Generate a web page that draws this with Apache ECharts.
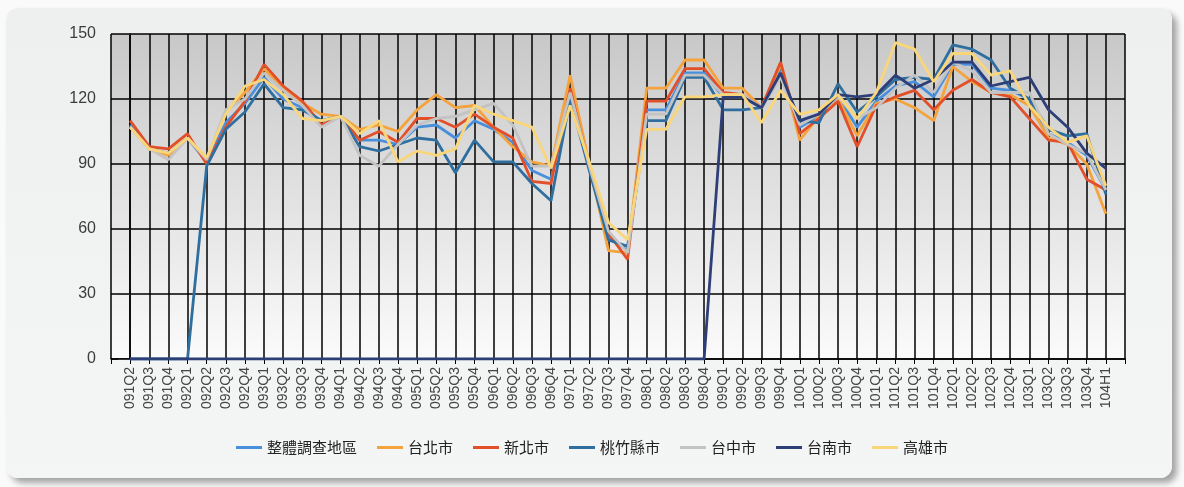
<!DOCTYPE html>
<html>
<head>
<meta charset="utf-8">
<script src="https://cdn.jsdelivr.net/npm/echarts@6/dist/echarts.min.js"></script>
<style>
html, body { margin: 0; padding: 0; background: #fafafa; }
#panel {
	position: absolute; left: 6px; top: 8px; width: 1166px; height: 470px;
	border-radius: 12px; background: linear-gradient(#eef0f0, #f4f5f5);
	box-shadow: 5px 5px 6px rgba(0,0,0,0.35);
}
#main { position: absolute; left: 0; top: 0; width: 1184px; height: 487px; }
</style>
</head>
<body>
<div id="panel"></div>
<div id="main"></div>
<script>
// 季別
var quarters = ['091Q2','091Q3','091Q4','092Q1','092Q2','092Q3','092Q4','093Q1','093Q2','093Q3','093Q4',
	'094Q1','094Q2','094Q3','094Q4','095Q1','095Q2','095Q3','095Q4','096Q1','096Q2','096Q3','096Q4',
	'097Q1','097Q2','097Q3','097Q4','098Q1','098Q2','098Q3','098Q4','099Q1','099Q2','099Q3','099Q4',
	'100Q1','100Q2','100Q3','100Q4','101Q1','101Q2','101Q3','101Q4','102Q1','102Q2','102Q3','102Q4',
	'103Q1','103Q2','103Q3','103Q4','104H1'];

var yTicks = [0, 30, 60, 90, 120, 150];

var allArea = [108,97,95,102,91,109,118,130,120,116,110,112,101,101,99,107,108,102,110,106,100,87,83,
	122,89,56,50,115,115,132,132,121,121,116,133,107,112,121,107,119,126,128,121,136,136,125,124,120,104,100,94,78];
var taipei = [107,97,94,102,92,114,123,134,125,118,113,112,106,108,105,115,122,116,117,107,98,91,89,
	131,90,50,49,125,125,138,138,125,125,116,136,101,112,120,103,118,120,116,110,135,128,123,122,117,102,99,90,67];
var newTaipei = [110,98,97,104,90,107,119,136,126,119,108,112,101,105,100,111,111,107,113,107,102,82,81,
	125,88,58,46,119,119,134,134,123,122,116,137,104,111,119,98,117,121,124,115,124,129,123,121,111,101,100,83,78];
var taoZhu = [0,0,0,0,89,106,114,127,116,115,110,112,98,96,99,102,101,86,101,91,91,81,73,
	120,87,55,52,110,110,130,130,115,115,116,131,110,109,127,114,121,129,130,129,145,143,138,125,120,106,103,104,76];
var taichung = [107,97,92,102,92,115,120,132,124,117,107,112,94,89,99,108,111,112,115,118,108,89,89,
	123,89,59,49,113,113,131,131,122,122,116,130,108,113,121,111,116,125,131,123,137,133,123,123,123,104,99,95,78];
var tainan = [0,0,0,0,0,0,0,0,0,0,0,0,0,0,0,0,0,0,0,0,0,0,0,
	0,0,0,0,0,0,0,0,121,121,116,132,110,113,122,121,122,131,125,129,137,137,126,128,130,115,107,95,88];
var kaohsiung = [107,97,95,102,93,113,126,129,122,111,110,112,104,110,91,96,94,97,117,113,110,107,88,
	117,91,63,55,106,106,121,121,122,122,109,124,113,115,122,111,123,146,143,128,141,141,131,133,117,107,100,103,80];

var seriesNames = ['整體調查地區','台北市','新北市','桃竹縣市','台中市','台南市','高雄市'];
var seriesData = [allArea, taipei, newTaipei, taoZhu, taichung, tainan, kaohsiung];
var seriesColors = ['#4a8fdc','#f5a33c','#e2502b','#2f6f9f','#c3c3c3','#2e3f77','#fad67a'];

var myChart = echarts.init(document.getElementById('main'));

var series = [];
for (var s = 0; s < seriesNames.length; s++) {
	series.push({
		name: seriesNames[s],
		type: 'line',
		symbol: 'none',
		lineStyle: { width: 2.8, color: seriesColors[s] },
		itemStyle: { color: seriesColors[s] },
		data: seriesData[s].map(function(v, i) { return [i, v]; })
	});
}

var option = {
	backgroundColor: 'transparent',
	animation: false,
	grid: {
		left: 111, right: 59, top: 34, bottom: 128,
		show: true, borderWidth: 0,
		backgroundColor: new echarts.graphic.LinearGradient(0, 0, 0, 1, [
			{ offset: 0, color: '#c8c8c8' },
			{ offset: 1, color: '#fbfbfb' }
		])
	},
	legend: {
		bottom: 27,
		left: 'center',
		icon: 'rect',
		itemWidth: 26,
		itemHeight: 3,
		itemGap: 20,
		textStyle: { fontSize: 15, color: '#222', fontFamily: 'Noto Sans CJK TC' },
		data: seriesNames
	},
	xAxis: {
		type: 'value',
		min: -1,
		max: quarters.length,
		interval: 1,
		axisLine: { show: true, lineStyle: { color: '#000', width: 1.5 } },
		axisTick: { show: true, length: 5, lineStyle: { color: '#000' } },
		splitLine: { show: true, lineStyle: { color: '#000', width: 1.5 } },
		axisLabel: {
			rotate: 90,
			margin: 8,
			fontSize: 14,
			color: '#444',
			fontFamily: 'Liberation Sans',
			showMinLabel: true,
			showMaxLabel: true,
			formatter: function(v) {
				var i = Math.round(v);
				return (i >= 0 && i < quarters.length) ? quarters[i] : '';
			}
		}
	},
	yAxis: {
		type: 'value',
		min: yTicks[0],
		max: yTicks[yTicks.length - 1],
		interval: 30,
		axisLine: { show: true, lineStyle: { color: '#000', width: 1.5 } },
		axisTick: { show: true, length: 12, lineStyle: { color: '#333' } },
		splitLine: { show: true, lineStyle: { color: '#000', width: 1.5 } },
		axisLabel: { fontSize: 16, color: '#3c3c3c', margin: 15, fontFamily: 'Liberation Sans' }
	},
	series: series
};

myChart.setOption(option);
</script>
</body>
</html>
